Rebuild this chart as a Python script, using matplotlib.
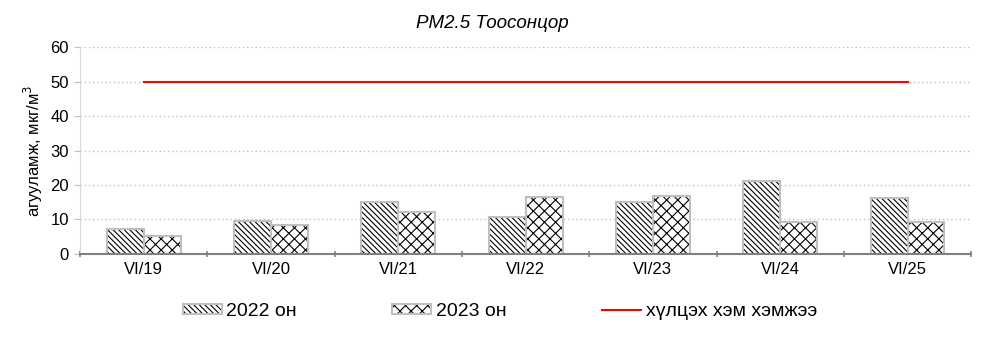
import matplotlib
matplotlib.use("Agg")
import matplotlib.pyplot as plt
import numpy as np
from matplotlib.patches import Patch
from matplotlib.lines import Line2D
from matplotlib.legend_handler import HandlerTuple

plt.rcParams['font.family'] = ['Liberation Sans', 'DejaVu Sans']
plt.rcParams['hatch.linewidth'] = 0.8

categories = ["VI/19", "VI/20", "VI/21", "VI/22", "VI/23", "VI/24", "VI/25"]
vals_2022 = [7.2, 9.7, 15.2, 10.7, 15.2, 21.2, 16.2]
vals_2023 = [5.2, 8.5, 12.1, 16.6, 16.9, 9.4, 9.2]
limit = 50
labels = ["2022 он", "2023 он", "хүлцэх хэм хэмжээ"]

fig = plt.figure(figsize=(9.84, 3.51), dpi=100)
ax = fig.add_axes([0.0813, 0.2764, 0.9057, 0.5896])

x = np.arange(len(categories))
w = 0.29
grey = "#bfbfbf"
h22 = "\\\\\\\\\\\\"
h23 = "xxx"
for xs, vals, h in [(x - w/2, vals_2022, h22), (x + w/2, vals_2023, h23)]:
    ax.bar(xs, vals, w, color="white", edgecolor="black", linewidth=0, hatch=h, zorder=2)
    ax.bar(xs, vals, w, fill=False, edgecolor=grey, linewidth=1.5, zorder=3)

ax.plot([x[0], x[-1]], [limit, limit], color="#ff0000", linewidth=1.5, zorder=4)

ax.set_xlim(-0.5, len(categories) - 0.5)
ax.set_ylim(0, 60)
ax.set_yticks(np.arange(0, 61, 10))
ax.set_xticks(x)
ax.set_xticklabels(categories, fontsize=12)
ax.tick_params(axis='x', length=0, pad=6)
ax.set_xticks(np.arange(-0.5, len(categories) + 0.5, 1), minor=True)
ax.tick_params(axis='x', which='minor', length=5, color="#808080", width=1.2, direction='inout')
ax.tick_params(axis='y', labelsize=12, length=4, color="#bfbfbf", pad=4)
ax.yaxis.grid(True, linestyle=(0, (1, 2)), color="#bfbfbf", linewidth=1)
ax.set_axisbelow(True)
for s in ["top", "right"]:
    ax.spines[s].set_visible(False)
ax.spines["left"].set_color("#d9d9d9")
ax.spines["bottom"].set_color("#808080")
ax.spines["bottom"].set_linewidth(1.5)
ax.spines["bottom"].set_zorder(5)

ax.set_ylabel("агууламж, мкг/м$^3$", fontsize=12)
fig.text(0.5, 0.932, "PM2.5 Тоосонцор", fontsize=13.5, style="italic", ha="center", va="center")

def bar_handle(h):
    return (Patch(facecolor="white", edgecolor="black", linewidth=0, hatch=h),
            Patch(fill=False, edgecolor=grey, linewidth=1.5))

handles = [bar_handle(h22), bar_handle(h23),
           Line2D([0], [0], color="#ff0000", linewidth=1.5)]
fig.legend(handles, labels, loc="center", bbox_to_anchor=(0.508, 0.112), ncol=3,
           frameon=False, fontsize=14, columnspacing=4.9, handlelength=2.0,
           handleheight=0.4, handletextpad=0.25,
           handler_map={tuple: HandlerTuple(ndivide=1, pad=0)})

fig.savefig("out.png", dpi=100)
